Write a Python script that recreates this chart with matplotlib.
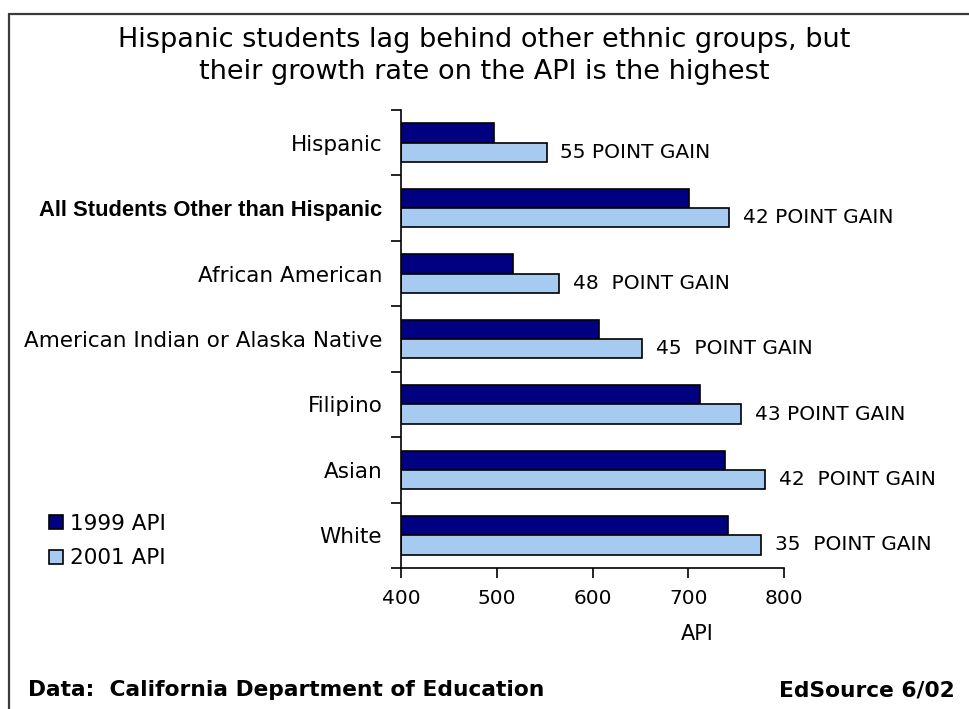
import matplotlib
matplotlib.use("Agg")
import matplotlib.pyplot as plt
from matplotlib.patches import Rectangle
import numpy as np

# --- data -------------------------------------------------------------
groups = [
    "Hispanic",
    "All Students Other than Hispanic",
    "African American",
    "American Indian or Alaska Native",
    "Filipino",
    "Asian",
    "White",
]
api_1999 = [497, 701, 517, 607, 712, 738, 741]
api_2001 = [552, 743, 565, 652, 755, 780, 776]
gain_labels = [
    "55 POINT GAIN",
    "42 POINT GAIN",
    "48  POINT GAIN",
    "45  POINT GAIN",
    "43 POINT GAIN",
    "42  POINT GAIN",
    "35  POINT GAIN",
]
x_ticks = [400, 500, 600, 700, 800]
series_names = ["1999 API", "2001 API"]

# --- style ------------------------------------------------------------
W, H = 969, 709
DPI = 100
dark = "#000080"
light = "#A6CAF0"
plt.rcParams["font.family"] = ["DejaVu Sans"]


def fx(px):
    return px / W


def fy(py):
    return 1 - py / H


fig = plt.figure(figsize=(W / DPI, H / DPI), dpi=DPI)
fig.patch.set_facecolor("white")

# outer frame (top and left edges visible)
fig.patches.append(Rectangle((fx(9), fy(760)), 2.0, fy(14) - fy(760),
                             transform=fig.transFigure, fill=False,
                             edgecolor="#3a3a3a", linewidth=1.6))

ax = fig.add_axes([fx(401), fy(568), fx(784) - fx(401), fy(110) - fy(568)])

y = np.arange(len(groups))
h = 0.295
ax.barh(y - h / 2, [v - 400 for v in api_1999], left=400, height=h,
        color=dark, edgecolor="black", linewidth=1.2, label=series_names[0])
ax.barh(y + h / 2, [v - 400 for v in api_2001], left=400, height=h,
        color=light, edgecolor="black", linewidth=1.2, label=series_names[1])

ax.set_xlim(400, 800)
ax.set_ylim(len(groups) - 0.5, -0.5)

# category boundaries as ticks, names as minor tick labels
ax.set_yticks(np.arange(len(groups) + 1) - 0.5)
ax.set_yticklabels([])
ax.set_yticks(y, minor=True)
ax.set_yticklabels(groups, minor=True, fontsize=15.5)
ax.tick_params(axis="y", which="minor", length=0, pad=13.5)
ax.tick_params(axis="y", which="major", length=7, width=1.2, direction="out")
lbls = ax.get_yticklabels(minor=True)
lbls[1].set_fontweight("bold")
lbls[1].set_family(["Liberation Sans"])
lbls[1].set_fontsize(15.8)

ax.set_xticks(x_ticks)
ax.set_xticklabels([str(t) for t in x_ticks], fontsize=14.5)
ax.tick_params(axis="x", length=7, width=1.2, direction="out", pad=8)

for s in ["top", "right"]:
    ax.spines[s].set_visible(False)
for s in ["left", "bottom"]:
    ax.spines[s].set_linewidth(1.2)

# gain annotations beside the 2001 bars
for yi, v, lab in zip(y, api_2001, gain_labels):
    ax.annotate(lab, xy=(v, yi + h / 2), xytext=(10, 0),
                textcoords="offset points", va="center", ha="left",
                fontsize=14.5, annotation_clip=False)

# axis title
fig.text(fx(697), fy(634), "API", ha="center", va="center", fontsize=15)

# legend
handles, labels = ax.get_legend_handles_labels()
fig.legend(handles, labels, loc="center left",
           bbox_to_anchor=(fx(30), fy(541)), frameon=False, fontsize=15.5,
           handlelength=0.62, handleheight=0.62, handletextpad=0.35,
           labelspacing=0.68)

# title
fig.text(0.5, fy(40), "Hispanic students lag behind other ethnic groups, but",
         ha="center", va="center", fontsize=19.5)
fig.text(0.5, fy(72), "their growth rate on the API is the highest",
         ha="center", va="center", fontsize=19.5)

# footer
fig.text(fx(28), fy(690), "Data:  California Department of Education",
         ha="left", va="center", fontsize=15.7, fontweight="bold")
fig.text(fx(955), fy(690), "EdSource 6/02",
         ha="right", va="center", fontsize=15.7, fontweight="bold")

fig.savefig("out.png", dpi=DPI)
